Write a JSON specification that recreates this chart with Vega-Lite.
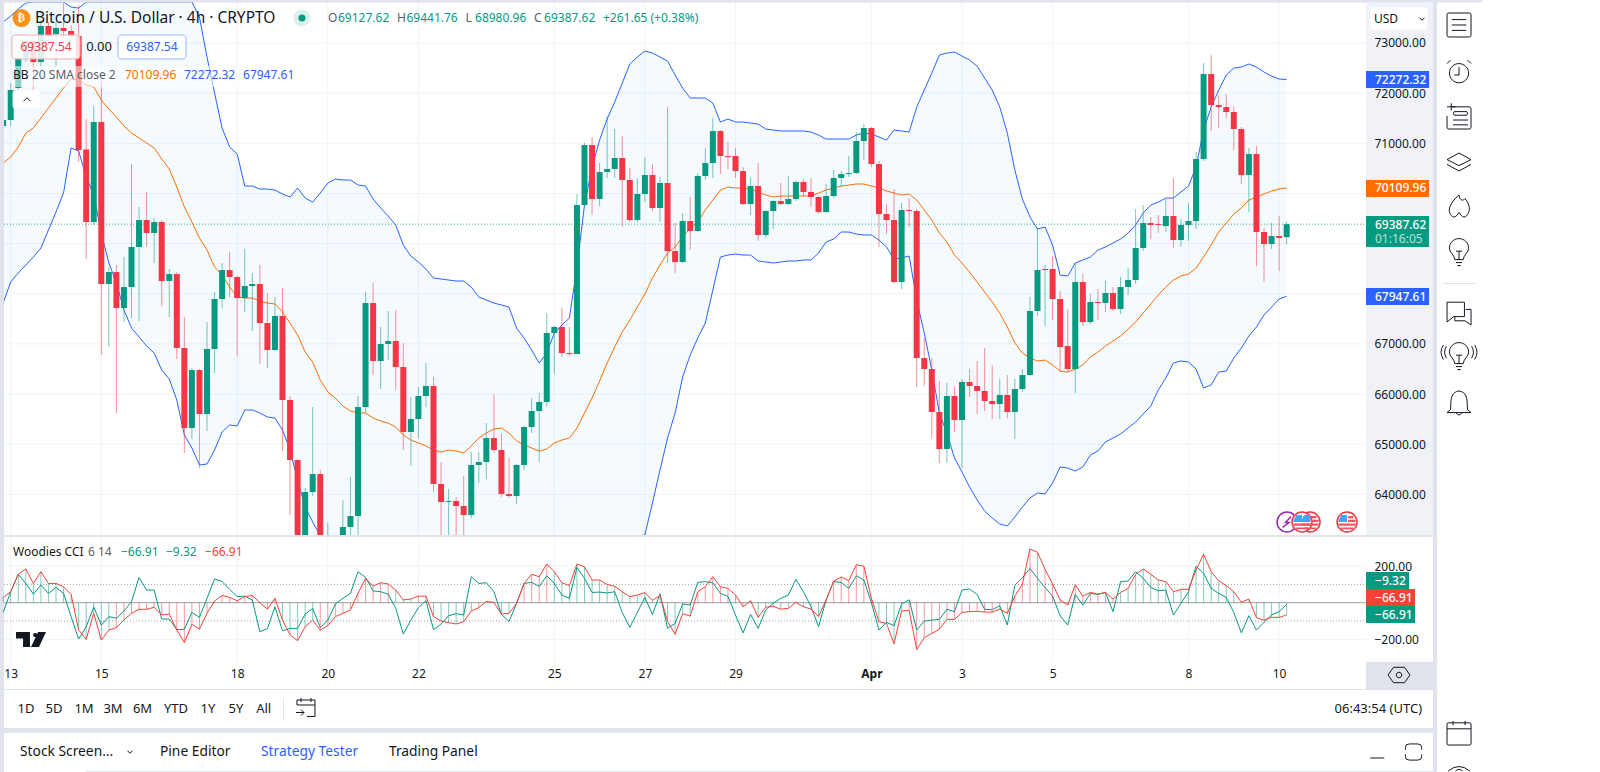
{"$schema":"https://vega.github.io/schema/vega-lite/v6.json","width":1590,"height":762,"autosize":{"type":"none"},"background":"white","config":{"view":{"stroke":null},"font":"Noto Sans","text":{"font":"Noto Sans"}},
"datasets":{
"candles":[{"i":-1,"o":71345,"h":71504,"l":71305,"c":71464},{"i":0,"o":71464,"h":72202,"l":71345,"c":72063},{"i":1,"o":72103,"h":72860,"l":71863,"c":72701},{"i":2,"o":72701,"h":73159,"l":72621,"c":73040},{"i":3,"o":73040,"h":73139,"l":71863,"c":72621},{"i":4,"o":72621,"h":73458,"l":72541,"c":73339},{"i":5,"o":73339,"h":73419,"l":73060,"c":73139},{"i":6,"o":73179,"h":73419,"l":72541,"c":73299},{"i":7,"o":73299,"h":73797,"l":73099,"c":73239},{"i":8,"o":73239,"h":73359,"l":73020,"c":73139},{"i":9,"o":73139,"h":73757,"l":70627,"c":70866},{"i":10,"o":70876,"h":71484,"l":68693,"c":69430},{"i":11,"o":69430,"h":71743,"l":69370,"c":71424},{"i":12,"o":71424,"h":72262,"l":66778,"c":68194},{"i":13,"o":68194,"h":68533,"l":66938,"c":68433},{"i":14,"o":68433,"h":68573,"l":65622,"c":67715},{"i":15,"o":67715,"h":68732,"l":67436,"c":68134},{"i":16,"o":68134,"h":70587,"l":67516,"c":68932},{"i":17,"o":68932,"h":69730,"l":67456,"c":69470},{"i":18,"o":69470,"h":70029,"l":68932,"c":69211},{"i":19,"o":69211,"h":69510,"l":68613,"c":69430},{"i":20,"o":69430,"h":69470,"l":67755,"c":68254},{"i":21,"o":68254,"h":68493,"l":67536,"c":68393},{"i":22,"o":68393,"h":68433,"l":66699,"c":66918},{"i":23,"o":66918,"h":67536,"l":64824,"c":65323},{"i":24,"o":65323,"h":66519,"l":65103,"c":66479},{"i":25,"o":66479,"h":66499,"l":64525,"c":65602},{"i":26,"o":65602,"h":67436,"l":65263,"c":66898},{"i":27,"o":66898,"h":68034,"l":66419,"c":67895},{"i":28,"o":67895,"h":68613,"l":67715,"c":68473},{"i":29,"o":68473,"h":68832,"l":67935,"c":68334},{"i":30,"o":68334,"h":68354,"l":66758,"c":67915},{"i":31,"o":67915,"h":68892,"l":67636,"c":68154},{"i":32,"o":68154,"h":68413,"l":67257,"c":68194},{"i":33,"o":68194,"h":68573,"l":66599,"c":67416},{"i":34,"o":67416,"h":68015,"l":66519,"c":66878},{"i":35,"o":66878,"h":67935,"l":66858,"c":67556},{"i":36,"o":67556,"h":68114,"l":64864,"c":65881},{"i":37,"o":65881,"h":65961,"l":63588,"c":64685},{"i":38,"o":64685,"h":64705,"l":63170,"c":63170},{"i":39,"o":63170,"h":64127,"l":63170,"c":64047},{"i":40,"o":64047,"h":65741,"l":63967,"c":64405},{"i":41,"o":64405,"h":64485,"l":63170,"c":63170},{"i":42,"o":63170,"h":63428,"l":63170,"c":63170},{"i":43,"o":63170,"h":63170,"l":63170,"c":63170},{"i":44,"o":63170,"h":63887,"l":63170,"c":63349},{"i":45,"o":63349,"h":64346,"l":63170,"c":63568},{"i":46,"o":63568,"h":65961,"l":63170,"c":65741},{"i":47,"o":65741,"h":68034,"l":65622,"c":67815},{"i":48,"o":67815,"h":68214,"l":66379,"c":66659},{"i":49,"o":66659,"h":67337,"l":66100,"c":66998},{"i":50,"o":66998,"h":67656,"l":66679,"c":67058},{"i":51,"o":67058,"h":67676,"l":66080,"c":66539},{"i":52,"o":66539,"h":67018,"l":64884,"c":65243},{"i":53,"o":65243,"h":65941,"l":64565,"c":65502},{"i":54,"o":65502,"h":66140,"l":65123,"c":65961},{"i":55,"o":65961,"h":66619,"l":65741,"c":66160},{"i":56,"o":66160,"h":66340,"l":64047,"c":64206},{"i":57,"o":64206,"h":64645,"l":63189,"c":63847},{"i":58,"o":63847,"h":64107,"l":63190,"c":63867},{"i":59,"o":63867,"h":63947,"l":63190,"c":63767},{"i":60,"o":63767,"h":64366,"l":63170,"c":63588},{"i":61,"o":63588,"h":64844,"l":63528,"c":64585},{"i":62,"o":64585,"h":64844,"l":64226,"c":64645},{"i":63,"o":64645,"h":65422,"l":64306,"c":65123},{"i":64,"o":65123,"h":66001,"l":64824,"c":64884},{"i":65,"o":64884,"h":65223,"l":63947,"c":64007},{"i":66,"o":64007,"h":64725,"l":63927,"c":63967},{"i":67,"o":63967,"h":64605,"l":63807,"c":64585},{"i":68,"o":64585,"h":65363,"l":64485,"c":65343},{"i":69,"o":65343,"h":65921,"l":65223,"c":65662},{"i":70,"o":65662,"h":66021,"l":64645,"c":65841},{"i":71,"o":65841,"h":67616,"l":65741,"c":67217},{"i":72,"o":67217,"h":67357,"l":66399,"c":67337},{"i":73,"o":67337,"h":67715,"l":66738,"c":66818},{"i":74,"o":66818,"h":67337,"l":66758,"c":66798},{"i":75,"o":66798,"h":69989,"l":66798,"c":69769},{"i":76,"o":69769,"h":71006,"l":69769,"c":70966},{"i":77,"o":70966,"h":71125,"l":69570,"c":69889},{"i":78,"o":69889,"h":70607,"l":69749,"c":70428},{"i":79,"o":70428,"h":71544,"l":70308,"c":70487},{"i":80,"o":70487,"h":71285,"l":70308,"c":70707},{"i":81,"o":70707,"h":71145,"l":69331,"c":70268},{"i":82,"o":70268,"h":70507,"l":69430,"c":69470},{"i":83,"o":69470,"h":70308,"l":69430,"c":69989},{"i":84,"o":69989,"h":70726,"l":69829,"c":70367},{"i":85,"o":70367,"h":70587,"l":69650,"c":69710},{"i":86,"o":69710,"h":70328,"l":69430,"c":70208},{"i":87,"o":70208,"h":71723,"l":68613,"c":68852},{"i":88,"o":68852,"h":69410,"l":68413,"c":68633},{"i":89,"o":68633,"h":69610,"l":68613,"c":69450},{"i":90,"o":69450,"h":69929,"l":68872,"c":69251},{"i":91,"o":69251,"h":70407,"l":69231,"c":70348},{"i":92,"o":70348,"h":70906,"l":70268,"c":70607},{"i":93,"o":70607,"h":71504,"l":70308,"c":71245},{"i":94,"o":71245,"h":71265,"l":70387,"c":70746},{"i":95,"o":70746,"h":71026,"l":70487,"c":70726},{"i":96,"o":70746,"h":70906,"l":70308,"c":70447},{"i":97,"o":70447,"h":70527,"l":69769,"c":69789},{"i":98,"o":69789,"h":70308,"l":69570,"c":70148},{"i":99,"o":70148,"h":70607,"l":69051,"c":69171},{"i":100,"o":69171,"h":69670,"l":69111,"c":69650},{"i":101,"o":69650,"h":69869,"l":69291,"c":69849},{"i":102,"o":69849,"h":70208,"l":69769,"c":69789},{"i":103,"o":69789,"h":70348,"l":69769,"c":69889},{"i":104,"o":69889,"h":70248,"l":69849,"c":70228},{"i":105,"o":70228,"h":70288,"l":69949,"c":70029},{"i":106,"o":70029,"h":70308,"l":69730,"c":69929},{"i":107,"o":69929,"h":69949,"l":69590,"c":69630},{"i":108,"o":69630,"h":70188,"l":69610,"c":69949},{"i":109,"o":69949,"h":70467,"l":69909,"c":70308},{"i":110,"o":70308,"h":70447,"l":70128,"c":70387},{"i":111,"o":70387,"h":70746,"l":70328,"c":70407},{"i":112,"o":70407,"h":71225,"l":70387,"c":71046},{"i":113,"o":71046,"h":71385,"l":70667,"c":71305},{"i":114,"o":71305,"h":71325,"l":70527,"c":70587},{"i":115,"o":70587,"h":70647,"l":68932,"c":69590},{"i":116,"o":69590,"h":69789,"l":69191,"c":69470},{"i":117,"o":69470,"h":70089,"l":68214,"c":68234},{"i":118,"o":68234,"h":69809,"l":68094,"c":69670},{"i":119,"o":69670,"h":69909,"l":69331,"c":69650},{"i":120,"o":69650,"h":69690,"l":66140,"c":66718},{"i":121,"o":66718,"h":67117,"l":66160,"c":66499},{"i":122,"o":66499,"h":66718,"l":65123,"c":65642},{"i":123,"o":65642,"h":66260,"l":64625,"c":64904},{"i":124,"o":64904,"h":66220,"l":64625,"c":65961},{"i":125,"o":65961,"h":66140,"l":65243,"c":65482},{"i":126,"o":65482,"h":66300,"l":64525,"c":66240},{"i":127,"o":66240,"h":66499,"l":65941,"c":66160},{"i":128,"o":66160,"h":66659,"l":65602,"c":66061},{"i":129,"o":66061,"h":66918,"l":65662,"c":65861},{"i":130,"o":65861,"h":66579,"l":65502,"c":65801},{"i":131,"o":65801,"h":66300,"l":65502,"c":65981},{"i":132,"o":65981,"h":66379,"l":65522,"c":65642},{"i":133,"o":65642,"h":66300,"l":65103,"c":66100},{"i":134,"o":66100,"h":66499,"l":66041,"c":66379},{"i":135,"o":66379,"h":67935,"l":66360,"c":67656},{"i":136,"o":67656,"h":69311,"l":67556,"c":68473},{"i":137,"o":68473,"h":68573,"l":67357,"c":68493},{"i":138,"o":68493,"h":68752,"l":67476,"c":67895},{"i":139,"o":67895,"h":68055,"l":66439,"c":66938},{"i":140,"o":66958,"h":67696,"l":66439,"c":66499},{"i":141,"o":66499,"h":68613,"l":66021,"c":68234},{"i":142,"o":68234,"h":68394,"l":67357,"c":67436},{"i":143,"o":67436,"h":67995,"l":67397,"c":67835},{"i":144,"o":67835,"h":68094,"l":67476,"c":67815},{"i":145,"o":67815,"h":68254,"l":67636,"c":68015},{"i":146,"o":68015,"h":68134,"l":67656,"c":67696},{"i":147,"o":67696,"h":68334,"l":67596,"c":68134},{"i":148,"o":68134,"h":68513,"l":67975,"c":68274},{"i":149,"o":68274,"h":69690,"l":68194,"c":68912},{"i":150,"o":68912,"h":69769,"l":68852,"c":69410},{"i":151,"o":69410,"h":69530,"l":69091,"c":69370},{"i":152,"o":69390,"h":69570,"l":69211,"c":69370},{"i":153,"o":69350,"h":69889,"l":69231,"c":69550},{"i":154,"o":69550,"h":70308,"l":68912,"c":69071},{"i":155,"o":69071,"h":69490,"l":68932,"c":69370},{"i":156,"o":69370,"h":69809,"l":69051,"c":69450},{"i":157,"o":69450,"h":70826,"l":69291,"c":70687},{"i":158,"o":70687,"h":72601,"l":70647,"c":72381},{"i":159,"o":72381,"h":72760,"l":71245,"c":71763},{"i":160,"o":71763,"h":71963,"l":71305,"c":71723},{"i":161,"o":71723,"h":71983,"l":71504,"c":71624},{"i":162,"o":71624,"h":71743,"l":70866,"c":71285},{"i":163,"o":71285,"h":71325,"l":70188,"c":70367},{"i":164,"o":70367,"h":70906,"l":69630,"c":70786},{"i":165,"o":70786,"h":70946,"l":68553,"c":69231},{"i":166,"o":69231,"h":69311,"l":68234,"c":68992},{"i":167,"o":68992,"h":69410,"l":68892,"c":69151},{"i":168,"o":69151,"h":69550,"l":68454,"c":69111},{"i":169,"o":69127.62,"h":69441.76,"l":68980.96,"c":69387.62}],
"bands":[{"i":-1,"u":73418,"m":70607,"d":67815},{"i":0,"u":73538,"m":70727,"d":68234},{"i":1,"u":73678,"m":70926,"d":68413},{"i":2,"u":73797,"m":71205,"d":68573},{"i":3,"u":73817,"m":71305,"d":68732},{"i":4,"u":73817,"m":71504,"d":68912},{"i":5,"u":73817,"m":71704,"d":69271},{"i":6,"u":73817,"m":71903,"d":69630},{"i":7,"u":73817,"m":72102,"d":70009},{"i":8,"u":73717,"m":72282,"d":70906},{"i":9,"u":73697,"m":72262,"d":70846},{"i":10,"u":73817,"m":72162,"d":70328},{"i":11,"u":73817,"m":72122,"d":69969},{"i":12,"u":73817,"m":71863,"d":69211},{"i":13,"u":73817,"m":71684,"d":68613},{"i":14,"u":73817,"m":71524,"d":68214},{"i":15,"u":73817,"m":71345,"d":67676},{"i":16,"u":73817,"m":71205,"d":67316},{"i":17,"u":73817,"m":71105,"d":67137},{"i":18,"u":73817,"m":71006,"d":66958},{"i":19,"u":73817,"m":70906,"d":66818},{"i":20,"u":73817,"m":70687,"d":66479},{"i":21,"u":73817,"m":70487,"d":66300},{"i":22,"u":73817,"m":70128,"d":65881},{"i":23,"u":73817,"m":69730,"d":65183},{"i":24,"u":73817,"m":69430,"d":64924},{"i":25,"u":73518,"m":69111,"d":64585},{"i":26,"u":72720,"m":68872,"d":64605},{"i":27,"u":72003,"m":68533,"d":64884},{"i":28,"u":71305,"m":68374,"d":65243},{"i":29,"u":70926,"m":68134,"d":65383},{"i":30,"u":70786,"m":67935,"d":65363},{"i":31,"u":70148,"m":67915,"d":65682},{"i":32,"u":70148,"m":67915,"d":65682},{"i":33,"u":70088,"m":67855,"d":65622},{"i":34,"u":70088,"m":67815,"d":65542},{"i":35,"u":70068,"m":67795,"d":65522},{"i":36,"u":69989,"m":67636,"d":65283},{"i":37,"u":69929,"m":67416,"d":64884},{"i":38,"u":70108,"m":67177,"d":64286},{"i":39,"u":69909,"m":66838,"d":63748},{"i":40,"u":69829,"m":66639,"d":63448},{"i":41,"u":70009,"m":66280,"d":63170},{"i":42,"u":70208,"m":66040,"d":63170},{"i":43,"u":70288,"m":65921,"d":63170},{"i":44,"u":70268,"m":65761,"d":63170},{"i":45,"u":70268,"m":65662,"d":63170},{"i":46,"u":70168,"m":65622,"d":63170},{"i":47,"u":70148,"m":65622,"d":63170},{"i":48,"u":69889,"m":65522,"d":63170},{"i":49,"u":69710,"m":65462,"d":63170},{"i":50,"u":69550,"m":65422,"d":63170},{"i":51,"u":69370,"m":65343,"d":63170},{"i":52,"u":68972,"m":65183,"d":63170},{"i":53,"u":68752,"m":65083,"d":63170},{"i":54,"u":68633,"m":65024,"d":63170},{"i":55,"u":68493,"m":64964,"d":63170},{"i":56,"u":68314,"m":64884,"d":63170},{"i":57,"u":68294,"m":64844,"d":63170},{"i":58,"u":68274,"m":64884,"d":63170},{"i":59,"u":68254,"m":64864,"d":63170},{"i":60,"u":68254,"m":64824,"d":63170},{"i":61,"u":68134,"m":64964,"d":63170},{"i":62,"u":67935,"m":65123,"d":63170},{"i":63,"u":67875,"m":65223,"d":63170},{"i":64,"u":67815,"m":65303,"d":63170},{"i":65,"u":67775,"m":65323,"d":63170},{"i":66,"u":67735,"m":65223,"d":63170},{"i":67,"u":67316,"m":65064,"d":63170},{"i":68,"u":67117,"m":64984,"d":63170},{"i":69,"u":66878,"m":64924,"d":63170},{"i":70,"u":66619,"m":64864,"d":63170},{"i":71,"u":66818,"m":64904,"d":63170},{"i":72,"u":67217,"m":65024,"d":63170},{"i":73,"u":67377,"m":65083,"d":63170},{"i":74,"u":67516,"m":65123,"d":63170},{"i":75,"u":68533,"m":65323,"d":63170},{"i":76,"u":69769,"m":65622,"d":63170},{"i":77,"u":70527,"m":65921,"d":63170},{"i":78,"u":71065,"m":66260,"d":63170},{"i":79,"u":71484,"m":66619,"d":63170},{"i":80,"u":71823,"m":66938,"d":63170},{"i":81,"u":72202,"m":67237,"d":63170},{"i":82,"u":72581,"m":67476,"d":63170},{"i":83,"u":72720,"m":67735,"d":63170},{"i":84,"u":72840,"m":67995,"d":63190},{"i":85,"u":72800,"m":68314,"d":63827},{"i":86,"u":72720,"m":68573,"d":64485},{"i":87,"u":72641,"m":68812,"d":65123},{"i":88,"u":72362,"m":68932,"d":65622},{"i":89,"u":72102,"m":69131,"d":66340},{"i":90,"u":71903,"m":69311,"d":66778},{"i":91,"u":71903,"m":69430,"d":67117},{"i":92,"u":71903,"m":69670,"d":67416},{"i":93,"u":71803,"m":69869,"d":68074},{"i":94,"u":71424,"m":70068,"d":68732},{"i":95,"u":71484,"m":70128,"d":68772},{"i":96,"u":71424,"m":70108,"d":68792},{"i":97,"u":71424,"m":70108,"d":68772},{"i":98,"u":71404,"m":70088,"d":68772},{"i":99,"u":71384,"m":70029,"d":68653},{"i":100,"u":71285,"m":69969,"d":68633},{"i":101,"u":71265,"m":69929,"d":68613},{"i":102,"u":71245,"m":69949,"d":68633},{"i":103,"u":71245,"m":69949,"d":68653},{"i":104,"u":71245,"m":69949,"d":68653},{"i":105,"u":71245,"m":69949,"d":68673},{"i":106,"u":71225,"m":69949,"d":68673},{"i":107,"u":71165,"m":70009,"d":68812},{"i":108,"u":71085,"m":70068,"d":69032},{"i":109,"u":71085,"m":70108,"d":69091},{"i":110,"u":71085,"m":70148,"d":69231},{"i":111,"u":71085,"m":70168,"d":69231},{"i":112,"u":71165,"m":70188,"d":69191},{"i":113,"u":71205,"m":70188,"d":69171},{"i":114,"u":71185,"m":70148,"d":69171},{"i":115,"u":71125,"m":70108,"d":69071},{"i":116,"u":71065,"m":70049,"d":68932},{"i":117,"u":71265,"m":70009,"d":68693},{"i":118,"u":71245,"m":69969,"d":68713},{"i":119,"u":71225,"m":69989,"d":68752},{"i":120,"u":71723,"m":69869,"d":67875},{"i":121,"u":72062,"m":69670,"d":67217},{"i":122,"u":72401,"m":69470,"d":66479},{"i":123,"u":72760,"m":69211,"d":65622},{"i":124,"u":72800,"m":69032,"d":65223},{"i":125,"u":72820,"m":68772,"d":64725},{"i":126,"u":72740,"m":68613,"d":64445},{"i":127,"u":72661,"m":68433,"d":64146},{"i":128,"u":72541,"m":68234,"d":63887},{"i":129,"u":72302,"m":68034,"d":63668},{"i":130,"u":72062,"m":67835,"d":63528},{"i":131,"u":71723,"m":67616,"d":63409},{"i":132,"u":71205,"m":67337,"d":63369},{"i":133,"u":70467,"m":67018,"d":63548},{"i":134,"u":69889,"m":66818,"d":63748},{"i":135,"u":69530,"m":66718,"d":63927},{"i":136,"u":69291,"m":66659,"d":64027},{"i":137,"u":69331,"m":66679,"d":64007},{"i":138,"u":68972,"m":66579,"d":64226},{"i":139,"u":68373,"m":66459,"d":64545},{"i":140,"u":68353,"m":66439,"d":64525},{"i":141,"u":68613,"m":66499,"d":64465},{"i":142,"u":68673,"m":66579,"d":64545},{"i":143,"u":68732,"m":66738,"d":64784},{"i":144,"u":68872,"m":66838,"d":64864},{"i":145,"u":68932,"m":66958,"d":65043},{"i":146,"u":69012,"m":67058,"d":65123},{"i":147,"u":69091,"m":67157,"d":65203},{"i":148,"u":69211,"m":67297,"d":65323},{"i":149,"u":69370,"m":67436,"d":65442},{"i":150,"u":69610,"m":67616,"d":65602},{"i":151,"u":69769,"m":67795,"d":65761},{"i":152,"u":69829,"m":67975,"d":66080},{"i":153,"u":69909,"m":68134,"d":66320},{"i":154,"u":69909,"m":68274,"d":66619},{"i":155,"u":70029,"m":68354,"d":66659},{"i":156,"u":70148,"m":68394,"d":66639},{"i":157,"u":70527,"m":68513,"d":66499},{"i":158,"u":71265,"m":68732,"d":66120},{"i":159,"u":71723,"m":68972,"d":66180},{"i":160,"u":72062,"m":69231,"d":66439},{"i":161,"u":72361,"m":69410,"d":66459},{"i":162,"u":72501,"m":69590,"d":66718},{"i":163,"u":72521,"m":69710,"d":66918},{"i":164,"u":72581,"m":69869,"d":67157},{"i":165,"u":72521,"m":69929,"d":67337},{"i":166,"u":72421,"m":69989,"d":67576},{"i":167,"u":72341,"m":70049,"d":67735},{"i":168,"u":72282,"m":70088,"d":67895},{"i":169,"u":72272.32,"m":70109.96,"d":67947.61}],
"cci":[{"i":-1,"c":27,"t":-53,"s":"u"},{"i":0,"c":60,"t":60,"s":"u"},{"i":1,"c":155,"t":155,"s":"u"},{"i":2,"c":184,"t":105,"s":"u"},{"i":3,"c":105,"t":47,"s":"u"},{"i":4,"c":169,"t":96,"s":"u"},{"i":5,"c":105,"t":51,"s":"u"},{"i":6,"c":105,"t":84,"s":"u"},{"i":7,"c":87,"t":51,"s":"u"},{"i":8,"c":45,"t":-76,"s":"u"},{"i":9,"c":-149,"t":-198,"s":"u"},{"i":10,"c":-200,"t":-131,"s":"u"},{"i":11,"c":-58,"t":-24,"s":"u"},{"i":12,"c":-204,"t":-122,"s":"u"},{"i":13,"c":-149,"t":-76,"s":"u"},{"i":14,"c":-136,"t":-85,"s":"d"},{"i":15,"c":-95,"t":-45,"s":"d"},{"i":16,"c":-58,"t":5,"s":"d"},{"i":17,"c":-36,"t":138,"s":"d"},{"i":18,"c":-36,"t":69,"s":"d"},{"i":19,"c":-25,"t":69,"s":"d"},{"i":20,"c":-67,"t":-89,"s":"d"},{"i":21,"c":-62,"t":-89,"s":"d"},{"i":22,"c":-149,"t":-147,"s":"d"},{"i":23,"c":-218,"t":-145,"s":"d"},{"i":24,"c":-118,"t":-53,"s":"d"},{"i":25,"c":-144,"t":-80,"s":"d"},{"i":26,"c":-58,"t":24,"s":"d"},{"i":27,"c":9,"t":129,"s":"d"},{"i":28,"c":40,"t":116,"s":"d"},{"i":29,"c":29,"t":73,"s":"d"},{"i":30,"c":11,"t":33,"s":"d"},{"i":31,"c":33,"t":36,"s":"d"},{"i":32,"c":40,"t":15,"s":"d"},{"i":33,"c":0,"t":-158,"s":"d"},{"i":34,"c":-35,"t":-142,"s":"d"},{"i":35,"c":24,"t":-22,"s":"d"},{"i":36,"c":-95,"t":-153,"s":"u"},{"i":37,"c":-176,"t":-140,"s":"u"},{"i":38,"c":-207,"t":-140,"s":"u"},{"i":39,"c":-131,"t":-62,"s":"u"},{"i":40,"c":-95,"t":-31,"s":"u"},{"i":41,"c":-149,"t":-136,"s":"d"},{"i":42,"c":-125,"t":-95,"s":"d"},{"i":43,"c":-76,"t":-7,"s":"d"},{"i":44,"c":-58,"t":24,"s":"d"},{"i":45,"c":-40,"t":51,"s":"d"},{"i":46,"c":51,"t":169,"s":"d"},{"i":47,"c":133,"t":138,"s":"d"},{"i":48,"c":91,"t":64,"s":"d"},{"i":49,"c":109,"t":60,"s":"d"},{"i":50,"c":102,"t":47,"s":"d"},{"i":51,"c":69,"t":-31,"s":"u"},{"i":52,"c":15,"t":-171,"s":"u"},{"i":53,"c":20,"t":-95,"s":"u"},{"i":54,"c":36,"t":-27,"s":"d"},{"i":55,"c":36,"t":11,"s":"d"},{"i":56,"c":-76,"t":-147,"s":"u"},{"i":57,"c":-100,"t":-116,"s":"u"},{"i":58,"c":-109,"t":-71,"s":"u"},{"i":59,"c":-116,"t":-60,"s":"u"},{"i":60,"c":-104,"t":-67,"s":"u"},{"i":61,"c":-45,"t":142,"s":"d"},{"i":62,"c":-27,"t":105,"s":"d"},{"i":63,"c":7,"t":109,"s":"d"},{"i":64,"c":2,"t":60,"s":"d"},{"i":65,"c":-62,"t":-64,"s":"u"},{"i":66,"c":-58,"t":-102,"s":"u"},{"i":67,"c":-4,"t":-4,"s":"d"},{"i":68,"c":105,"t":105,"s":"d"},{"i":69,"c":155,"t":111,"s":"d"},{"i":70,"c":142,"t":89,"s":"d"},{"i":71,"c":211,"t":147,"s":"d"},{"i":72,"c":169,"t":105,"s":"u"},{"i":73,"c":109,"t":42,"s":"u"},{"i":74,"c":93,"t":24,"s":"u"},{"i":75,"c":211,"t":193,"s":"u"},{"i":76,"c":196,"t":133,"s":"u"},{"i":77,"c":124,"t":56,"s":"u"},{"i":78,"c":124,"t":58,"s":"u"},{"i":79,"c":100,"t":53,"s":"u"},{"i":80,"c":89,"t":60,"s":"u"},{"i":81,"c":60,"t":-53,"s":"u"},{"i":82,"c":33,"t":-135,"s":"u"},{"i":83,"c":42,"t":-53,"s":"u"},{"i":84,"c":55,"t":29,"s":"u"},{"i":85,"c":13,"t":-65,"s":"u"},{"i":86,"c":40,"t":49,"s":"u"},{"i":87,"c":-100,"t":-140,"s":"u"},{"i":88,"c":-173,"t":-113,"s":"u"},{"i":89,"c":-60,"t":-7,"s":"u"},{"i":90,"c":-73,"t":-13,"s":"u"},{"i":91,"c":60,"t":111,"s":"d"},{"i":92,"c":87,"t":115,"s":"d"},{"i":93,"c":142,"t":109,"s":"d"},{"i":94,"c":87,"t":51,"s":"d"},{"i":95,"c":78,"t":35,"s":"d"},{"i":96,"c":42,"t":-67,"s":"u"},{"i":97,"c":-22,"t":-165,"s":"u"},{"i":98,"c":11,"t":-64,"s":"u"},{"i":99,"c":-80,"t":-140,"s":"u"},{"i":100,"c":-24,"t":-40,"s":"u"},{"i":101,"c":-20,"t":-2,"s":"u"},{"i":102,"c":-35,"t":24,"s":"u"},{"i":103,"c":-31,"t":42,"s":"u"},{"i":104,"c":2,"t":127,"s":"u"},{"i":105,"c":-22,"t":60,"s":"u"},{"i":106,"c":-35,"t":-22,"s":"u"},{"i":107,"c":-75,"t":-131,"s":"u"},{"i":108,"c":15,"t":15,"s":"d"},{"i":109,"c":118,"t":115,"s":"d"},{"i":110,"c":140,"t":111,"s":"d"},{"i":111,"c":120,"t":78,"s":"d"},{"i":112,"c":207,"t":147,"s":"d"},{"i":113,"c":200,"t":124,"s":"d"},{"i":114,"c":24,"t":0,"s":"d"},{"i":115,"c":-104,"t":-149,"s":"u"},{"i":116,"c":-113,"t":-107,"s":"u"},{"i":117,"c":-224,"t":-125,"s":"u"},{"i":118,"c":-45,"t":-7,"s":"u"},{"i":119,"c":-42,"t":16,"s":"d"},{"i":120,"c":-255,"t":-149,"s":"d"},{"i":121,"c":-191,"t":-100,"s":"d"},{"i":122,"c":-167,"t":-95,"s":"d"},{"i":123,"c":-145,"t":-91,"s":"d"},{"i":124,"c":-91,"t":-36,"s":"d"},{"i":125,"c":-91,"t":-49,"s":"d"},{"i":126,"c":-53,"t":69,"s":"d"},{"i":127,"c":-49,"t":75,"s":"d"},{"i":128,"c":-47,"t":45,"s":"d"},{"i":129,"c":-51,"t":-36,"s":"d"},{"i":130,"c":-51,"t":-38,"s":"d"},{"i":131,"c":-35,"t":-16,"s":"d"},{"i":132,"c":-58,"t":-122,"s":"d"},{"i":133,"c":36,"t":96,"s":"d"},{"i":134,"c":102,"t":136,"s":"d"},{"i":135,"c":293,"t":187,"s":"d"},{"i":136,"c":275,"t":133,"s":"d"},{"i":137,"c":182,"t":82,"s":"d"},{"i":138,"c":102,"t":36,"s":"d"},{"i":139,"c":15,"t":-71,"s":"d"},{"i":140,"c":-13,"t":-122,"s":"d"},{"i":141,"c":98,"t":45,"s":"d"},{"i":142,"c":36,"t":-13,"s":"d"},{"i":143,"c":56,"t":51,"s":"d"},{"i":144,"c":47,"t":45,"s":"d"},{"i":145,"c":56,"t":56,"s":"d"},{"i":146,"c":20,"t":-49,"s":"d"},{"i":147,"c":56,"t":115,"s":"u"},{"i":148,"c":78,"t":118,"s":"u"},{"i":149,"c":155,"t":169,"s":"u"},{"i":150,"c":184,"t":133,"s":"u"},{"i":151,"c":155,"t":84,"s":"u"},{"i":152,"c":124,"t":65,"s":"u"},{"i":153,"c":115,"t":69,"s":"u"},{"i":154,"c":60,"t":-67,"s":"u"},{"i":155,"c":73,"t":-4,"s":"u"},{"i":156,"c":73,"t":60,"s":"u"},{"i":157,"c":178,"t":200,"s":"u"},{"i":158,"c":265,"t":160,"s":"u"},{"i":159,"c":169,"t":78,"s":"u"},{"i":160,"c":120,"t":51,"s":"u"},{"i":161,"c":93,"t":29,"s":"u"},{"i":162,"c":60,"t":-53,"s":"u"},{"i":163,"c":2,"t":-165,"s":"u"},{"i":164,"c":20,"t":-71,"s":"u"},{"i":165,"c":-82,"t":-149,"s":"u"},{"i":166,"c":-95,"t":-107,"s":"u"},{"i":167,"c":-80,"t":-67,"s":"u"},{"i":168,"c":-80,"t":-49,"s":"u"},{"i":169,"c":-66.91,"t":-9.32,"s":"u"}]
},
"encoding":{"x":{"field":"i","type":"quantitative","scale":{"domain":[-0.755,209.84],"nice":false,"zero":false,"padding":0},"axis":{"title":null,"values":[0,12,30,42,54,72,84,96,114,126,138,156,168],"labelExpr":"{0:'13',12:'15',30:'18',42:'20',54:'22',72:'25',84:'27',96:'29',114:'Apr',126:'3',138:'5',156:'8',168:'10'}[datum.value]","grid":false,"domain":false,"ticks":false,"labelPadding":6,"labelFontSize":12,"labelColor":"#131722","labelFont":"Noto Sans","offset":-105,"labelOverlap":false,"labelBound":false,"labelFlush":false,"zindex":1,"labelFontWeight":{"condition":{"test":"datum.value===114","value":"bold"},"value":"normal"}}}},
"resolve":{"scale":{"y":"independent"},"axis":{"y":"independent"}},
"layer":[
{"layer":[
{"data":{"values":[{"i":-0.887,"i2":179.51,"p":64000},{"i":-0.887,"i2":179.51,"p":65000},{"i":-0.887,"i2":179.51,"p":66000},{"i":-0.887,"i2":179.51,"p":67000},{"i":-0.887,"i2":179.51,"p":68000},{"i":-0.887,"i2":179.51,"p":69000},{"i":-0.887,"i2":179.51,"p":70000},{"i":-0.887,"i2":179.51,"p":71000},{"i":-0.887,"i2":179.51,"p":72000},{"i":-0.887,"i2":179.51,"p":73000}]},"mark":{"type":"rule","color":"#f0f3fa","strokeWidth":1},"encoding":{"x2":{"field":"i2"},"y":{"field":"p","type":"quantitative","scale":{"domain":[58563.4,73757.7],"nice":false,"zero":false},"axis":{"title":null,"orient":"left","offset":-1369,"labelAlign":"left","values":[64000,65000,66000,67000,68000,69000,70000,71000,72000,73000],"labelExpr":"datum.value>=68000&&datum.value<=70000?'':format(datum.value,'.2f')","grid":false,"domain":false,"ticks":false,"labelPadding":0,"labelFontSize":12,"labelColor":"#131722","labelFont":"Noto Sans","labelOverlap":false,"labelBound":false,"labelFlush":false,"zindex":1}}}},
{"data":{"values":[{"i":0,"p":73808,"p2":60657},{"i":12,"p":73808,"p2":60657},{"i":30,"p":73808,"p2":60657},{"i":42,"p":73808,"p2":60657},{"i":54,"p":73808,"p2":60657},{"i":72,"p":73808,"p2":60657},{"i":84,"p":73808,"p2":60657},{"i":96,"p":73808,"p2":60657},{"i":114,"p":73808,"p2":60657},{"i":126,"p":73808,"p2":60657},{"i":138,"p":73808,"p2":60657},{"i":156,"p":73808,"p2":60657},{"i":168,"p":73808,"p2":60657}]},"mark":{"type":"rule","color":"#f0f3fa","strokeWidth":1},"encoding":{"y":{"field":"p","type":"quantitative","title":null,"scale":{"domain":[58563.4,73757.7],"nice":false,"zero":false}},"y2":{"field":"p2"}}},
{"data":{"name":"bands"},"mark":{"type":"area","color":"#2196f3","opacity":0.05},"encoding":{"y":{"field":"u","type":"quantitative","title":null,"scale":{"domain":[58563.4,73757.7],"nice":false,"zero":false}},"y2":{"field":"d"}}},
{"data":{"name":"bands"},"mark":{"type":"line","color":"#2962ff","strokeWidth":1},"encoding":{"y":{"field":"u","type":"quantitative","title":null,"scale":{"domain":[58563.4,73757.7],"nice":false,"zero":false}}}},
{"data":{"name":"bands"},"mark":{"type":"line","color":"#2962ff","strokeWidth":1},"encoding":{"y":{"field":"d","type":"quantitative","title":null,"scale":{"domain":[58563.4,73757.7],"nice":false,"zero":false}}}},
{"data":{"name":"bands"},"mark":{"type":"line","color":"#ff6d00","strokeWidth":1},"encoding":{"y":{"field":"m","type":"quantitative","title":null,"scale":{"domain":[58563.4,73757.7],"nice":false,"zero":false}}}},
{"data":{"values":[{"i":-0.887,"i2":179.51,"p":69387.62}]},"mark":{"type":"rule","color":"#089981","strokeWidth":1,"strokeDash":[1,2],"opacity":0.8},"encoding":{"x2":{"field":"i2"},"y":{"field":"p","type":"quantitative","title":null,"scale":{"domain":[58563.4,73757.7],"nice":false,"zero":false}}}},
{"data":{"name":"candles"},"mark":{"type":"rule","strokeWidth":1,"opacity":0.55},"encoding":{"y":{"field":"h","type":"quantitative","title":null,"scale":{"domain":[58563.4,73757.7],"nice":false,"zero":false}},"y2":{"field":"l"},"color":{"condition":{"test":"datum.c>=datum.o","value":"#089981"},"value":"#f23645"}}},
{"data":{"name":"candles"},"mark":{"type":"bar","size":6,"orient":"vertical"},"encoding":{"y":{"field":"o","type":"quantitative","title":null,"scale":{"domain":[58563.4,73757.7],"nice":false,"zero":false}},"y2":{"field":"c"},"color":{"condition":{"test":"datum.c>=datum.o","value":"#089981"},"value":"#f23645"}}},
{"data":{"values":[{"i":0.17,"i2":37.8,"p":72541,"p2":72122}]},"mark":{"type":"rect","color":"white","opacity":0.55},"encoding":{"x2":{"field":"i2"},"y":{"field":"p","type":"quantitative","title":null,"scale":{"domain":[58563.4,73757.7],"nice":false,"zero":false}},"y2":{"field":"p2"}}},
{"data":{"values":[{"i":179.51,"i2":188.39,"p":73808,"p2":63189}]},"mark":{"type":"rect","color":"#f0f2f7"},"encoding":{"x2":{"field":"i2"},"y":{"field":"p","type":"quantitative","title":null,"scale":{"domain":[58563.4,73757.7],"nice":false,"zero":false}},"y2":{"field":"p2"}}},
{"data":{"values":[{"i":194.88,"i2":210.5,"p":73857,"p2":58464},{"i":188.92,"i2":194.88,"p":73808,"p2":58464},{"i":-0.887,"i2":188.39,"p":60099,"p2":59341},{"i":-0.887,"i2":188.39,"p":59241,"p2":58464},{"i":-0.887,"i2":179.51,"p":60657,"p2":60119},{"i":179.51,"i2":188.39,"p":63150,"p2":60657}]},"mark":{"type":"rect","color":"white"},"encoding":{"x2":{"field":"i2"},"y":{"field":"p","type":"quantitative","title":null,"scale":{"domain":[58563.4,73757.7],"nice":false,"zero":false}},"y2":{"field":"p2"}}},
{"data":{"values":[{"i":-1.417,"i2":194.88,"p":73857,"p2":73808},{"i":-1.417,"i2":-0.887,"p":73857,"p2":58464},{"i":188.39,"i2":188.92,"p":73857,"p2":58464},{"i":-0.887,"i2":188.39,"p":63189,"p2":63150},{"i":179.51,"i2":188.39,"p":60657,"p2":60119},{"i":-0.887,"i2":188.39,"p":60119,"p2":60099},{"i":-0.887,"i2":188.39,"p":59341,"p2":59241},{"i":189.71,"i2":194.08,"p":68214,"p2":68196},{"i":36.07,"i2":36.2,"p":59939,"p2":59501},{"i":9.98,"i2":188.39,"p":58484,"p2":58464}]},"mark":{"type":"rect","color":"#e0e3eb"},"encoding":{"x2":{"field":"i2"},"y":{"field":"p","type":"quantitative","title":null,"scale":{"domain":[58563.4,73757.7],"nice":false,"zero":false}},"y2":{"field":"p2"}}}
]},
{"layer":[
{"data":{"values":[{"i":-0.887,"i2":179.51,"v":200},{"i":-0.887,"i2":179.51,"v":-200}]},"mark":{"type":"rule","color":"#f0f3fa","strokeWidth":1},"encoding":{"x2":{"field":"i2"},"y":{"field":"v","type":"quantitative","scale":{"domain":[-896.3,3260.8],"nice":false,"zero":false},"axis":{"title":null,"orient":"left","offset":-1369,"labelAlign":"left","values":[200,-200],"format":".2f","grid":false,"domain":false,"ticks":false,"labelPadding":0,"labelFontSize":12,"labelColor":"#131722","labelFont":"Noto Sans","labelOverlap":false,"labelBound":false,"labelFlush":false,"zindex":1}}}},
{"data":{"values":[{"i":-0.887,"i2":179.51,"v":100},{"i":-0.887,"i2":179.51,"v":-100}]},"mark":{"type":"rule","color":"#787b86","strokeWidth":1,"strokeDash":[1,2],"opacity":0.7},"encoding":{"x2":{"field":"i2"},"y":{"field":"v","type":"quantitative","title":null,"scale":{"domain":[-896.3,3260.8],"nice":false,"zero":false}}}},
{"data":{"name":"cci"},"mark":{"type":"rule","strokeWidth":1,"opacity":0.5},"encoding":{"y":{"field":"c","type":"quantitative","title":null,"scale":{"domain":[-896.3,3260.8],"nice":false,"zero":false}},"y2":{"datum":0},"color":{"condition":{"test":"datum.s==='u'","value":"#089981"},"value":"#f23645"}}},
{"data":{"values":[{"i":-0.887,"i2":179.51,"v":0}]},"mark":{"type":"rule","color":"#787b86","strokeWidth":1,"opacity":0.75},"encoding":{"x2":{"field":"i2"},"y":{"field":"v","type":"quantitative","title":null,"scale":{"domain":[-896.3,3260.8],"nice":false,"zero":false}}}},
{"data":{"name":"cci"},"mark":{"type":"line","color":"#089981","strokeWidth":1},"encoding":{"y":{"field":"t","type":"quantitative","title":null,"scale":{"domain":[-896.3,3260.8],"nice":false,"zero":false}}}},
{"data":{"name":"cci"},"mark":{"type":"line","color":"#f44336","strokeWidth":1},"encoding":{"y":{"field":"c","type":"quantitative","title":null,"scale":{"domain":[-896.3,3260.8],"nice":false,"zero":false}}}}
]},
{"encoding":{"y":{"field":"p","type":"quantitative","scale":{"domain":[58563.4,73757.7],"nice":false,"zero":false},"axis":null}},"layer":[
{"data":{"values":[{"i":0.172,"i2":9.18,"p":73160,"p2":72681}]},"mark":{"type":"rect","fill":"white","fillOpacity":0.85,"stroke":"#f7a8b0","strokeWidth":1,"cornerRadius":3},"encoding":{"x2":{"field":"i2"},"y2":{"field":"p2"}}},
{"data":{"values":[{"i":14.21,"i2":23.22,"p":73160,"p2":72681}]},"mark":{"type":"rect","fill":"white","fillOpacity":0.85,"stroke":"#9db5ff","strokeWidth":1,"cornerRadius":3},"encoding":{"x2":{"field":"i2"},"y2":{"field":"p2"}}},
{"data":{"values":[{"i":0.305,"i2":4.01,"p":72063,"p2":71684},{"i":180.03,"i2":187.72,"p":73718,"p2":73259}]},"mark":{"type":"rect","fill":"white","stroke":"#f0f3fa","strokeWidth":1,"cornerRadius":3},"encoding":{"x2":{"field":"i2"},"y2":{"field":"p2"}}},
{"data":{"values":[{"i":179.51,"i2":187.86,"p":72442,"p2":72103},{"i":179.51,"i2":187.86,"p":68115,"p2":67776}]},"mark":{"type":"rect","color":"#2962ff"},"encoding":{"x2":{"field":"i2"},"y2":{"field":"p2"}}},
{"data":{"values":[{"i":179.51,"i2":187.86,"p":70268,"p2":69929}]},"mark":{"type":"rect","color":"#ff6d00"},"encoding":{"x2":{"field":"i2"},"y2":{"field":"p2"}}},
{"data":{"values":[{"i":179.51,"i2":187.86,"p":69550,"p2":68932},{"i":179.51,"i2":185.21,"p":62452,"p2":62113},{"i":179.51,"i2":186.0,"p":61774,"p2":61435}]},"mark":{"type":"rect","color":"#089981"},"encoding":{"x2":{"field":"i2"},"y2":{"field":"p2"}}},
{"data":{"values":[{"i":179.51,"i2":186.0,"p":62113,"p2":61774}]},"mark":{"type":"rect","color":"#f44336"},"encoding":{"x2":{"field":"i2"},"y2":{"field":"p2"}}},
{"data":{"values":[{"i":1.43,"p":73498}]},"mark":{"type":"point","filled":true,"color":"#f7931a","opacity":1,"shape":"circle","size":324}},
{"data":{"values":[{"i":1.43,"p":73498,"t":"₿"}]},"mark":{"type":"text","color":"white","font":"DejaVu Sans","fontWeight":"bold","fontSize":11,"align":"center","baseline":"middle"},"encoding":{"text":{"field":"t"}}},
{"data":{"values":[{"i":38.58,"p":73498}]},"mark":{"type":"point","filled":true,"color":"#089981","opacity":0.15,"shape":"circle","size":289}},
{"data":{"values":[{"i":38.58,"p":73498}]},"mark":{"type":"point","filled":true,"color":"#089981","opacity":1,"shape":"circle","size":49}},
{"data":{"values":[{"i":169.05,"p":63449}]},"mark":{"type":"point","filled":false,"fill":"white","fillOpacity":1,"color":"#9c27b0","opacity":1,"strokeWidth":1.5,"shape":"circle","size":400}},
{"data":{"values":[{"i":169.05,"p":63449}]},"mark":{"type":"point","filled":false,"color":"#9c27b0","opacity":1,"strokeWidth":1.5,"shape":"M.4,-.55L-.15,.05H.2L-.45,.55","size":400}},
{"data":{"values":[{"i":172.1,"p":63449},{"i":171.04,"p":63449},{"i":177.0,"p":63449}]},"mark":{"type":"point","filled":false,"fill":"white","fillOpacity":1,"color":"#f23645","opacity":1,"strokeWidth":1.5,"shape":"circle","size":400}},
{"data":{"values":[{"i":172.1,"p":63449},{"i":171.04,"p":63449},{"i":177.0,"p":63449}]},"mark":{"type":"point","filled":true,"color":"#f7525f","opacity":1,"shape":"M.1,-.6H.65V-.38H.1Z M.1,-.22H.85V0H.1Z M-.85,.16H.85V.38H-.85Z M-.6,.55H.6V.72H-.6Z","size":400}},
{"data":{"values":[{"i":172.1,"p":63449},{"i":171.04,"p":63449},{"i":177.0,"p":63449}]},"mark":{"type":"point","filled":true,"color":"#42a5f5","opacity":1,"shape":"M-.55,-.7H0V0H-.85V-.2Z","size":400}},
{"data":{"values":[{"i":2.69,"p":61106}]},"mark":{"type":"point","filled":true,"color":"#131722","opacity":1,"shape":"M-1,-.5H-.07V.5H-.53V-.07H-1Z M.14,-.3A.14,.14 0 1,1 .42,-.3A.14,.14 0 1,1 .14,-.3Z M.47,-.5H1L.53,.5H0Z","size":900}},
{"data":{"values":[{"i":191.83,"p":73359,"n":"list"},{"i":191.83,"p":72422,"n":"clock"},{"i":191.83,"p":71524,"n":"note"},{"i":191.83,"p":70627,"n":"layers"},{"i":191.83,"p":69730,"n":"flame"},{"i":191.83,"p":68813,"n":"bulb"},{"i":191.83,"p":67616,"n":"chat"},{"i":191.83,"p":66739,"n":"waves"},{"i":191.83,"p":65822,"n":"bell"},{"i":191.83,"p":59241,"n":"calendar"},{"i":191.83,"p":58543,"n":"person"}]},"mark":{"type":"point","filled":false,"color":"#131722","opacity":1,"strokeWidth":1,"size":576},"encoding":{"shape":{"field":"n","legend":null,"scale":{"domain":["list","clock","note","layers","flame","bulb","chat","waves","bell","calendar","person"],"range":["M-.85,-1H.85Q1,-1 1,-.85V.85Q1,1 .85,1H-.85Q-1,1 -1,.85V-.85Q-1,-1 -.85,-1Z M-.6,-.45H.6 M-.6,0H.6 M-.6,.45H.6","M-.8,.1A.8,.8 0 1,1 .8,.1A.8,.8 0 1,1 -.8,.1Z M0,-.4V.25H-.4 M-1,-.7L-.7,-1 M1,-.7L.7,-1","M-.6,-.85H.85Q1,-.85 1,-.7V.85Q1,1 .85,1H-.85Q-1,1 -1,.85V-.1 M-1,-.85H-.3 M-.65,-1.15V-.55 M-.4,-.45H.65Q.8,-.3 .65,-.15H-.4Q-.55,-.3 -.4,-.45Z M-.5,.25H.75 M-.5,.65H.75","M0,-.75L1,-.2L0,.3L-1,-.2Z M-1,.2L0,.75L1,.2","M0,-1C.05,-.5 .35,-.5 .5,-.7C.9,-.2 1,.3 .65,.7C.45,.95 .25,.85 0,.45C-.25,.85 -.45,.95 -.65,.7C-1,.3 -.8,-.3 0,-1Z","M-.35,.55C-.4,.1 -.8,0 -.8,-.4A.8,.8 0 1,1 .8,-.4C.8,0 .4,.1 .35,.55Z M-.25,.8H.25 M-.15,1.05H.15 M0,.55V-.15 M-.25,-.15H.25","M-1,-.9H.45V.3H-.45L-1,.75Z M.55,-.3H1V1L.5,.65H-.35V.3","M-.35,.55C-.4,.1 -.8,0 -.8,-.4A.8,.8 0 1,1 .8,-.4C.8,0 .4,.1 .35,.55Z M-.25,.8H.25 M-.15,1.05H.15 M0,.55V-.15 M-.25,-.15H.25 M-1.05,-.9Q-1.35,-.4 -1.05,.1 M-1.3,-1Q-1.7,-.4 -1.3,.2 M1.05,-.9Q1.35,-.4 1.05,.1 M1.3,-1Q1.7,-.4 1.3,.2","M0,-1C-.6,-.9 -.7,-.5 -.7,.55L-1,.8H1L.7,.55C.7,-.5 .6,-.9 0,-1Z M-.25,.8Q0,1.2 .25,.8","M-.9,-.85H.9Q1,-.85 1,-.75V.9Q1,1 .9,1H-.9Q-1,1 -1,.9V-.75Q-1,-.85 -.9,-.85Z M-1,-.35H1 M-.5,-1V-.65 M.5,-1V-.65","M-.9,.25Q0,-.5 .9,.25 M-.3,.25Q0,-.02 .3,.25"]}}}},
{"data":{"values":[{"i":39.11,"p":59740}]},"mark":{"type":"point","filled":false,"color":"#131722","opacity":1,"strokeWidth":1,"size":400,"shape":"M-.9,-.3V-.8H.9V.85H.1 M-.9,-.3H.9 M-.5,-1V-.6 M.5,-1V-.6 M-1,.45H-.2 M-.5,.15L-.2,.45L-.5,.75"}},
{"data":{"values":[{"i":183.88,"p":60398}]},"mark":{"type":"point","filled":false,"color":"#131722","opacity":1,"strokeWidth":1,"size":484,"shape":"M-1,0L-.5,-.7H.5L1,0L.5,.7H-.5Z M-.25,0A.25,.25 0 1,1 .25,0A.25,.25 0 1,1 -.25,0Z"}},
{"data":{"values":[{"i":185.81,"p":58862}]},"mark":{"type":"point","filled":false,"color":"#131722","opacity":1,"strokeWidth":1,"size":361,"shape":"M-.45,-.85H.45Q.85,-.85 .85,-.5V-.25 M.85,.25V.5Q.85,.85 .45,.85H-.45Q-.85,.85 -.85,.5V.25 M-.85,-.25V-.5Q-.85,-.85 -.45,-.85"}},
{"data":{"values":[{"i":181.0,"p":58743}]},"mark":{"type":"point","filled":false,"color":"#131722","opacity":1,"strokeWidth":1,"size":100,"shape":"M-1.4,0H1.4"}},
{"data":{"values":[{"i":2.16,"p":71873}]},"mark":{"type":"point","filled":false,"color":"#131722","opacity":1,"strokeWidth":1,"size":100,"shape":"M-.7,.35L0,-.35L.7,.35"}},
{"data":{"values":[{"i":186.93,"p":73479},{"i":15.8,"p":58862}]},"mark":{"type":"point","filled":false,"color":"#131722","opacity":1,"strokeWidth":1,"size":100,"shape":"M-.5,-.25L0,.25L.5,-.25"}},
{"data":{"values":[{"i":3.22,"p":73498,"t":"Bitcoin / U.S. Dollar · 4h · CRYPTO"}]},"mark":{"type":"text","color":"#131722","fontSize":15.5,"align":"left","baseline":"middle"},"encoding":{"text":{"field":"t"}}},
{"data":{"values":[{"i":42.03,"p":73498,"t":"O"},{"i":51.17,"p":73498,"t":"H"},{"i":60.24,"p":73498,"t":"L"},{"i":69.31,"p":73498,"t":"C"},{"i":2.82,"p":72362,"t":"20 SMA close 2"},{"i":10.24,"p":62850,"t":"6 14"}]},"mark":{"type":"text","color":"#5d606b","fontSize":12,"align":"left","baseline":"middle"},"encoding":{"text":{"field":"t"}}},
{"data":{"values":[{"i":43.35,"p":73498,"t":"69127.62"},{"i":52.42,"p":73498,"t":"69441.76"},{"i":61.5,"p":73498,"t":"68980.96"},{"i":70.64,"p":73498,"t":"69387.62"},{"i":78.45,"p":73498,"t":"+261.65 (+0.38%)"},{"i":14.61,"p":62850,"t":"−66.91"},{"i":20.57,"p":62850,"t":"−9.32"}]},"mark":{"type":"text","color":"#089981","fontSize":12,"align":"left","baseline":"middle"},"encoding":{"text":{"field":"t"}}},
{"data":{"values":[{"i":25.74,"p":62850,"t":"−66.91"}]},"mark":{"type":"text","color":"#f44336","fontSize":12,"align":"left","baseline":"middle"},"encoding":{"text":{"field":"t"}}},
{"data":{"values":[{"i":15.14,"p":72362,"t":"70109.96"}]},"mark":{"type":"text","color":"#ff6d00","fontSize":12,"align":"left","baseline":"middle"},"encoding":{"text":{"field":"t"}}},
{"data":{"values":[{"i":22.95,"p":72362,"t":"72272.32"},{"i":30.77,"p":72362,"t":"67947.61"}]},"mark":{"type":"text","color":"#2962ff","fontSize":12,"align":"left","baseline":"middle"},"encoding":{"text":{"field":"t"}}},
{"data":{"values":[{"i":0.305,"p":72362,"t":"BB"},{"i":0.305,"p":62850,"t":"Woodies CCI"},{"i":180.56,"p":73479,"t":"USD"}]},"mark":{"type":"text","color":"#131722","fontSize":12,"align":"left","baseline":"middle"},"encoding":{"text":{"field":"t"}}},
{"data":{"values":[{"i":4.68,"p":72920,"t":"69387.54"}]},"mark":{"type":"text","color":"#f23645","fontSize":12,"align":"center","baseline":"middle"},"encoding":{"text":{"field":"t"}}},
{"data":{"values":[{"i":18.71,"p":72920,"t":"69387.54"}]},"mark":{"type":"text","color":"#2962ff","fontSize":12,"align":"center","baseline":"middle"},"encoding":{"text":{"field":"t"}}},
{"data":{"values":[{"i":11.7,"p":72920,"t":"0.00"},{"i":2.03,"p":59720,"t":"1D"},{"i":5.74,"p":59720,"t":"5D"},{"i":9.71,"p":59720,"t":"1M"},{"i":13.55,"p":59720,"t":"3M"},{"i":17.46,"p":59720,"t":"6M"},{"i":21.89,"p":59720,"t":"YTD"},{"i":26.13,"p":59720,"t":"1Y"},{"i":29.84,"p":59720,"t":"5Y"},{"i":33.5,"p":59720,"t":"All"}]},"mark":{"type":"text","color":"#131722","fontSize":13,"align":"center","baseline":"middle"},"encoding":{"text":{"field":"t"}}},
{"data":{"values":[{"i":186.93,"p":59720,"t":"06:43:54 (UTC)"}]},"mark":{"type":"text","color":"#131722","fontSize":13,"align":"right","baseline":"middle"},"encoding":{"text":{"field":"t"}}},
{"data":{"values":[{"i":1.23,"p":58862,"t":"Stock Screen..."},{"i":19.77,"p":58862,"t":"Pine Editor"},{"i":50.1,"p":58862,"t":"Trading Panel"}]},"mark":{"type":"text","color":"#131722","fontSize":13.8,"align":"left","baseline":"middle"},"encoding":{"text":{"field":"t"}}},
{"data":{"values":[{"i":33.15,"p":58862,"t":"Strategy Tester"}]},"mark":{"type":"text","color":"#2962ff","fontSize":13.8,"align":"left","baseline":"middle"},"encoding":{"text":{"field":"t"}}},
{"data":{"values":[{"i":180.7,"p":72262,"t":"72272.32"},{"i":180.7,"p":70108,"t":"70109.96"},{"i":180.7,"p":69371,"t":"69387.62"},{"i":180.7,"p":67935,"t":"67947.61"},{"i":180.7,"p":62282,"t":"−9.32"},{"i":180.7,"p":61943,"t":"−66.91"},{"i":180.7,"p":61594,"t":"−66.91"}]},"mark":{"type":"text","color":"white","fontSize":12,"fontWeight":500,"align":"left","baseline":"middle"},"encoding":{"text":{"field":"t"}}},
{"data":{"values":[{"i":180.7,"p":69092,"t":"01:16:05"}]},"mark":{"type":"text","color":"white","opacity":0.7,"fontSize":12,"align":"left","baseline":"middle"},"encoding":{"text":{"field":"t"}}}
]}
]}
